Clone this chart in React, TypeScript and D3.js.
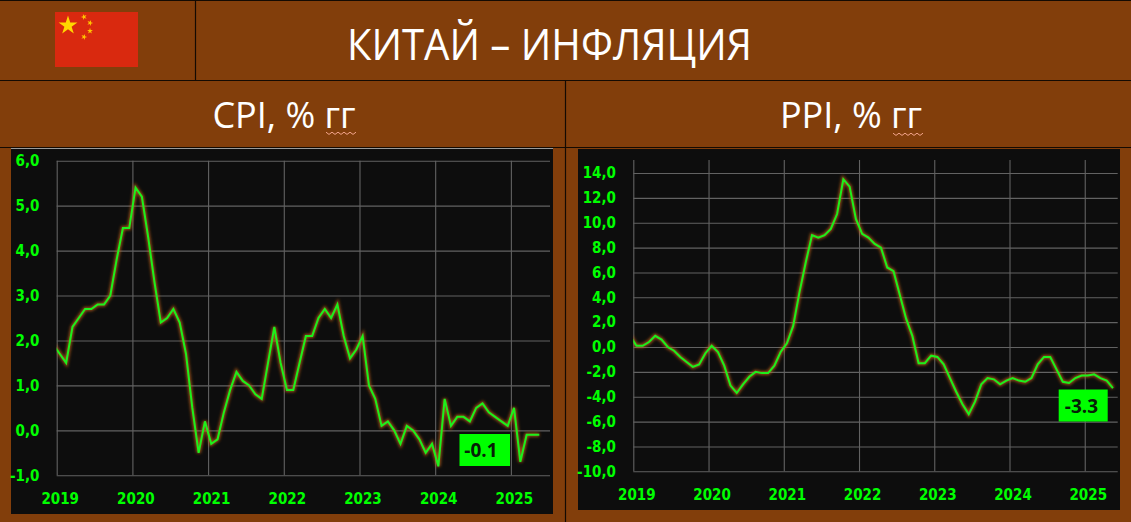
import { useRef, useEffect } from 'react';
import * as d3 from 'd3';

const title = 'КИТАЙ – ИНФЛЯЦИЯ';
const years = [2019, 2020, 2021, 2022, 2023, 2024, 2025];

// monthly readings, first one is Dec 2018 (clipped at the plot edge), last is May 2025
const cpiValues = [
  1.9,
  1.7, 1.5, 2.3, 2.5, 2.7, 2.7, 2.8, 2.8, 3.0, 3.8, 4.5, 4.5,
  5.4, 5.2, 4.3, 3.3, 2.4, 2.5, 2.7, 2.4, 1.7, 0.5, -0.5, 0.2,
  -0.3, -0.2, 0.4, 0.9, 1.3, 1.1, 1.0, 0.8, 0.7, 1.5, 2.3, 1.5,
  0.9, 0.9, 1.5, 2.1, 2.1, 2.5, 2.7, 2.5, 2.8, 2.1, 1.6, 1.8,
  2.1, 1.0, 0.7, 0.1, 0.2, 0.0, -0.3, 0.1, 0.0, -0.2, -0.5, -0.3,
  -0.8, 0.7, 0.1, 0.3, 0.3, 0.2, 0.5, 0.6, 0.4, 0.3, 0.2, 0.1,
  0.5, -0.7, -0.1, -0.1, -0.1,
];
const ppiValues = [
  0.9,
  0.1, 0.1, 0.4, 0.9, 0.6, 0.0, -0.3, -0.8, -1.2, -1.6, -1.4, -0.5,
  0.1, -0.4, -1.5, -3.1, -3.7, -3.0, -2.4, -2.0, -2.1, -2.1, -1.5, -0.4,
  0.3, 1.7, 4.4, 6.8, 9.0, 8.8, 9.0, 9.5, 10.7, 13.5, 12.9, 10.3,
  9.1, 8.8, 8.3, 8.0, 6.4, 6.1, 4.2, 2.3, 0.9, -1.3, -1.3, -0.7,
  -0.8, -1.4, -2.5, -3.6, -4.6, -5.4, -4.4, -3.0, -2.5, -2.6, -3.0, -2.7,
  -2.5, -2.7, -2.8, -2.5, -1.4, -0.8, -0.8, -1.8, -2.8, -2.9, -2.5, -2.3,
  -2.3, -2.2, -2.5, -2.7, -3.3,
];
const cpiTicks = [-1, 0, 1, 2, 3, 4, 5, 6];
const ppiTicks = [-10, -8, -6, -4, -2, 0, 2, 4, 6, 8, 10, 12, 14];

const BROWN = '#823e0b';
const GREEN = '#00ff00';
const LABEL_FONT = '"DejaVu Sans Condensed", "DejaVu Sans", sans-serif';
const TITLE_FONT = '"Open Sans", "Noto Sans", sans-serif';

const panels = [
  {
    id: 'cpi', heading: 'CPI, % гг', values: cpiValues, ticks: cpiTicks, last: '-0.1',
    panel: [11, 148, 553, 514], x0: 56.7, xStep: 6.308, xEnd: 550,
    yTop: 160.7, yBottom: 475.3, gridTop: 160.7, labelRight: 39.5, xLabelY: 504,
    box: [459.5, 434, 510, 466], boxTextX: 481, headingX: 284, squiggle: [326, 133], topEdge: true,
  },
  {
    id: 'ppi', heading: 'PPI, % гг', values: ppiValues, ticks: ppiTicks, last: '-3.3',
    panel: [578, 149, 1120, 510], x0: 633.3, xStep: 6.27, xEnd: 1117.7,
    yTop: 173, yBottom: 471.3, gridTop: 160, labelRight: 616, xLabelY: 500,
    box: [1058.7, 389.5, 1107.7, 421.5], boxTextX: 1081.5, headingX: 851, squiggle: [893, 134], topEdge: false,
  },
];

export default function App() {
  const svgRef = useRef<SVGSVGElement | null>(null);

  useEffect(() => {
    if (!svgRef.current) return;
    d3.select(svgRef.current).selectAll('*').remove();
    const svg = d3.select(svgRef.current);

    const defs = svg.append('defs');
    const glow = defs.append('filter').attr('id', 'glow')
      .attr('x', '-10%').attr('y', '-10%').attr('width', '120%').attr('height', '120%');
    glow.append('feGaussianBlur').attr('stdDeviation', 1.8);

    svg.append('rect').attr('width', 1131).attr('height', 522).attr('fill', BROWN);

    // Header frame
    const frame = [
      [0, 0.5, 1131, 0.5], [0, 80.5, 1131, 80.5], [0, 147.5, 1131, 147.5],
      [195.5, 0, 195.5, 80], [565.5, 80, 565.5, 522],
    ];
    svg.selectAll('line.frame').data(frame).enter().append('line')
      .attr('class', 'frame')
      .attr('x1', d => d[0]).attr('y1', d => d[1]).attr('x2', d => d[2]).attr('y2', d => d[3])
      .attr('stroke', '#140a02').attr('stroke-width', 1.2);

    // Flag
    const flag = svg.append('g');
    flag.append('rect').attr('x', 55).attr('y', 12).attr('width', 83).attr('height', 55).attr('fill', '#d9290f');
    const star = (r: number) => d3.symbol().type(d3.symbolStar).size(r)();
    flag.append('path').attr('d', star(110)).attr('transform', 'translate(68,25.5)').attr('fill', '#ffd800');
    [[84, 17, -20], [90, 23, 20], [90, 31, 0], [84, 37, 20]].forEach(([x, y, a]) => {
      flag.append('path').attr('d', star(11)).attr('transform', `translate(${x},${y}) rotate(${a})`).attr('fill', '#ffc400');
    });

    svg.append('text').attr('x', 549.5).attr('y', 60).attr('text-anchor', 'middle')
      .attr('font-family', TITLE_FONT).attr('font-size', 43).attr('fill', '#fff')
      .attr('textLength', 405).attr('lengthAdjust', 'spacingAndGlyphs').text(title);

    panels.forEach(p => {
      const [left, top, right, bottom] = p.panel;

      svg.append('text').attr('x', p.headingX).attr('y', 128).attr('text-anchor', 'middle')
        .attr('font-family', TITLE_FONT).attr('font-size', 36).attr('fill', '#fff').text(p.heading);

      // spell-check squiggle under the last word
      const [sx, sy] = p.squiggle;
      const wave = d3.range(0, 11).map(i => [sx + i * 3, sy + (i % 2 ? 1.4 : -0.8)] as [number, number]);
      svg.append('path').attr('d', d3.line()(wave)).attr('fill', 'none').attr('stroke', '#f4a58c').attr('stroke-width', 1);

      svg.append('rect').attr('x', left).attr('y', top).attr('width', right - left).attr('height', bottom - top).attr('fill', '#0d0d0d');
      if (p.topEdge) {
        svg.append('line').attr('x1', left).attr('x2', right).attr('y1', top + 0.5).attr('y2', top + 0.5)
          .attr('stroke', '#9a9a9a').attr('stroke-width', 1);
      }

      const x = d3.scaleLinear().domain([0, 12]).range([p.x0, p.x0 + 12 * p.xStep]);
      const y = d3.scaleLinear().domain([p.ticks[0], p.ticks[p.ticks.length - 1]]).range([p.yBottom, p.yTop]);

      const g = svg.append('g');

      const yAxis = g.append('g')
        .attr('transform', `translate(${p.x0},0)`)
        .call(d3.axisLeft(y).tickValues(p.ticks).tickSize(-(p.xEnd - p.x0)).tickPadding(p.x0 - p.labelRight)
          .tickFormat(d => (+d).toFixed(1).replace('.', ',')));
      const xAxis = g.append('g')
        .attr('transform', `translate(0,${p.yBottom})`)
        .call(d3.axisBottom(x).tickValues(years.map((_, i) => i * 12)).tickSize(-(p.yBottom - p.gridTop)).tickPadding(0)
          .tickFormat((_, i) => String(years[i])));

      [yAxis, xAxis].forEach(a => {
        a.select('.domain').remove();
        a.selectAll('line').attr('stroke', '#626262').attr('stroke-width', 1.1);
        a.selectAll('text')
          .attr('font-family', LABEL_FONT).attr('font-weight', 700).attr('font-size', 15)
          .attr('fill', GREEN);
      });
      xAxis.selectAll('text').attr('y', p.xLabelY - p.yBottom).attr('dy', 0).attr('dx', 3);

      // Line, clipped at the left of the plot
      const clipId = `clip-${p.id}`;
      defs.append('clipPath').attr('id', clipId).append('rect')
        .attr('x', p.x0).attr('y', top).attr('width', right - p.x0).attr('height', bottom - top);

      const line = d3.line<number>().x((_, i) => x(i - 0.5)).y(d => y(d));
      const plot = g.append('g').attr('clip-path', `url(#${clipId})`);
      plot.append('path').datum(p.values).attr('d', line).attr('fill', 'none')
        .attr('stroke', '#c8661a').attr('stroke-width', 4).attr('stroke-opacity', 0.75).attr('filter', 'url(#glow)');
      plot.append('path').datum(p.values).attr('d', line).attr('fill', 'none')
        .attr('stroke', '#1cf01c').attr('stroke-width', 2);

      // Last value box
      const [bx0, by0, bx1, by1] = p.box;
      g.append('rect').attr('x', bx0).attr('y', by0).attr('width', bx1 - bx0).attr('height', by1 - by0).attr('fill', GREEN);
      g.append('text').attr('x', p.boxTextX).attr('y', (by0 + by1) / 2 + 7).attr('text-anchor', 'middle')
        .attr('font-family', TITLE_FONT).attr('font-weight', 700).attr('font-size', 19).attr('fill', '#062006').text(p.last);
    });
  }, []);

  return (
    <svg
      ref={svgRef}
      width={1131}
      height={522}
      style={{ position: 'absolute', left: 0, top: 0, display: 'block' }}
    />
  );
}
